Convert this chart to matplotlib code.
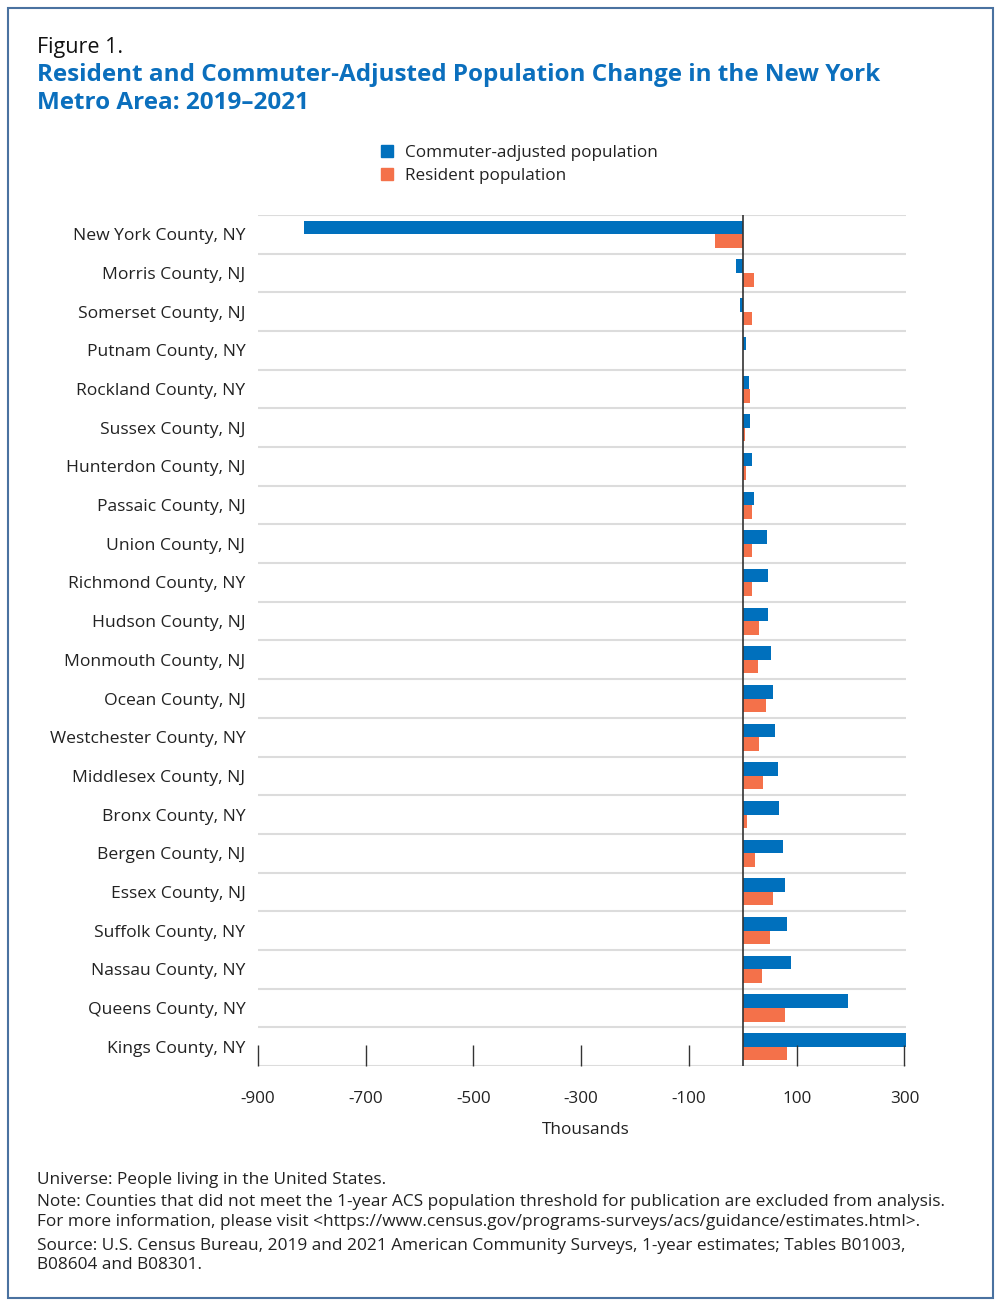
import matplotlib
matplotlib.use("Agg")
import matplotlib.pyplot as plt
from matplotlib.patches import Patch, Rectangle
import numpy as np

plt.rcParams['font.family'] = ['Open Sans', 'DejaVu Sans']

# data (thousands)
counties = ["New York County, NY", "Morris County, NJ", "Somerset County, NJ",
            "Putnam County, NY", "Rockland County, NY", "Sussex County, NJ",
            "Hunterdon County, NJ", "Passaic County, NJ", "Union County, NJ",
            "Richmond County, NY", "Hudson County, NJ", "Monmouth County, NJ",
            "Ocean County, NJ", "Westchester County, NY", "Middlesex County, NJ",
            "Bronx County, NY", "Bergen County, NJ", "Essex County, NJ",
            "Suffolk County, NY", "Nassau County, NY", "Queens County, NY",
            "Kings County, NY"]
commuter = [-814, -13, -6, 6, 12, 13, 18, 21, 45, 46, 46, 52,
            57, 59, 65, 67, 74, 78, 83, 90, 195, 303]
resident = [-52, 20, 17, 0.5, 14, 5, 6, 17, 17, 18, 31, 28,
            43, 31, 37, 8, 22, 57, 51, 35, 79, 82]
xticks = [-900, -700, -500, -300, -100, 100, 300]

blue = "#0070bd"
orange = "#f4714a"
title_blue = "#0b6fbd"

fig = plt.figure(figsize=(10, 13.06), dpi=100)
W, H = 1000, 1306

ax = fig.add_axes([258 / W, 1 - 1066 / H, 648 / W, (1066 - 215) / H])

y = np.arange(len(counties))
h = 0.35
ax.barh(y - h / 2, commuter, height=h, color=blue, label="Commuter-adjusted population")
ax.barh(y + h / 2, resident, height=h, color=orange, label="Resident population")

ax.set_xlim(-900, 303)
ax.set_ylim(len(counties) - 0.5, -0.5)

# row separators
for k in range(len(counties) + 1):
    ax.axhline(k - 0.5, color="#dcdcdc", lw=1.5, zorder=0)
ax.axvline(0, color="#333333", lw=1.2, zorder=3)

for s in ax.spines.values():
    s.set_visible(False)

ax.set_yticks(y)
ax.set_yticklabels(counties, fontsize=12.6, color="#222222")
ax.tick_params(axis="y", length=0, pad=9)
ax.set_xticks(xticks)
ax.set_xticklabels([str(t) for t in xticks], fontsize=12.3, color="#222222")
ax.tick_params(axis="x", direction="in", length=15, width=1, color="#333333", pad=18)

fig.text(586 / W, 1 - 1130 / H, "Thousands", ha="center", va="center", fontsize=12.3, color="#222222")

# title
fig.text(37 / W, 1 - 48 / H, "Figure 1.", ha="left", va="center", fontsize=15.5, color="#111111")
fig.text(37 / W, 1 - 75 / H, "Resident and Commuter-Adjusted Population Change in the New York",
         ha="left", va="center", fontsize=17.5, fontweight="bold", color=title_blue)
fig.text(37 / W, 1 - 103 / H, "Metro Area: 2019\u20132021",
         ha="left", va="center", fontsize=17.5, fontweight="bold", color=title_blue)

# legend
handles = [Patch(color=blue, label="Commuter-adjusted population"),
           Patch(color=orange, label="Resident population")]
fig.legend(handles=handles, loc="upper left", bbox_to_anchor=(366 / W, 1 - 130 / H),
           frameon=False, fontsize=12.3, handlelength=0.7, handleheight=0.7,
           handletextpad=0.7, labelspacing=0.4, labelcolor="#222222")

# notes
notes = [
    (1180, "Universe: People living in the United States."),
    (1202, "Note: Counties that did not meet the 1-year ACS population threshold for publication are excluded from analysis."),
    (1222, "For more information, please visit <https://www.census.gov/programs-surveys/acs/guidance/estimates.html>."),
    (1246, "Source: U.S. Census Bureau, 2019 and 2021 American Community Surveys, 1-year estimates; Tables B01003,"),
    (1265, "B08604 and B08301."),
]
for yy, txt in notes:
    fig.text(37 / W, 1 - yy / H, txt, ha="left", va="center", fontsize=12.4, color="#222222")

# outer frame
fig.patches.append(Rectangle((8 / W, 1 - 1298 / H), 985 / W, 1290 / H, transform=fig.transFigure,
                             fill=False, edgecolor="#4a72a0", lw=1.5))

fig.savefig("out.png", dpi=100)
